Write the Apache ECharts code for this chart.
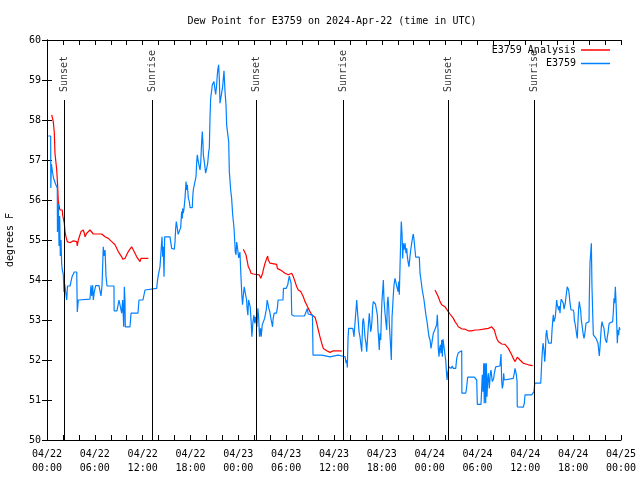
<!DOCTYPE html>
<html>
<head>
<meta charset="utf-8">
<script src="https://cdn.jsdelivr.net/npm/echarts@6/dist/echarts.min.js"></script>
<style>html,body{margin:0;padding:0;background:#fff}#c{width:640px;height:480px}</style>
</head>
<body>
<div id="c"></div>
<script>
// time in hours since 2024-04-22 00:00 UTC, dew point in degrees F
const xTickLabels = ['04/22\n00:00','04/22\n06:00','04/22\n12:00','04/22\n18:00','04/23\n00:00','04/23\n06:00','04/23\n12:00','04/23\n18:00','04/24\n00:00','04/24\n06:00','04/24\n12:00','04/24\n18:00','04/25\n00:00'];
const sunTimes = [2.17, 13.21, 26.25, 37.17, 50.34, 61.09];
const sunLabels = ['Sunset','Sunrise','Sunset','Sunrise','Sunset','Sunrise'];

const anaSeg1 = [[0.59,58.13],[0.72,58.15],[0.79,57.96],[0.92,57.67],[1.0,57.17],[1.13,57.13],[1.22,56.75],[1.34,56.33],[1.42,55.96],[1.54,55.83],[1.63,55.75],[1.92,55.75],[1.96,55.63],[2.04,55.63],[2.17,55.42],[2.26,55.21],[2.38,55.08],[2.55,54.96],[2.67,54.92],[2.89,54.93],[3.1,54.96],[3.30,54.98],[3.5,54.96],[3.73,54.96],[3.80,54.85],[3.93,55.0],[4.14,55.13],[4.26,55.21],[4.42,55.21],[4.55,55.25],[4.68,55.17],[4.77,55.08],[4.98,55.17],[5.18,55.21],[5.39,55.25],[5.61,55.25],[5.81,55.15],[6.86,55.15],[7.06,55.13],[7.28,55.08],[7.69,55.04],[7.90,55.0],[8.12,54.96],[8.32,54.92],[8.53,54.88],[8.74,54.83],[8.94,54.71],[9.16,54.67],[9.37,54.58],[9.50,54.52],[9.62,54.5],[9.78,54.54],[10.0,54.63],[10.2,54.71],[10.41,54.77],[10.62,54.83],[10.83,54.75],[11.04,54.67],[11.25,54.58],[11.45,54.54],[11.67,54.46],[11.79,54.54],[12.71,54.54]];
const anaSeg2 = [[24.62,54.77],[24.84,54.75],[24.96,54.63],[25.13,54.46],[25.25,54.33],[25.46,54.25],[25.59,54.17],[25.88,54.15],[26.09,54.13],[26.63,54.13],[26.81,54.04],[26.93,54.0],[27.05,54.17],[27.13,54.25],[27.35,54.42],[27.56,54.54],[27.68,54.6],[27.76,54.5],[27.97,54.42],[28.19,54.39],[28.81,54.39],[28.89,54.29],[29.14,54.25],[29.44,54.23],[29.85,54.17],[30.27,54.13],[30.48,54.08],[30.69,54.17],[30.9,54.08],[31.11,53.96],[31.32,53.83],[31.52,53.75],[31.82,53.71],[32.15,53.58],[32.36,53.46],[32.57,53.38],[32.78,53.29],[32.99,53.21],[33.2,53.13],[33.41,53.08],[33.62,53.07],[33.83,52.92],[34.03,52.75],[34.24,52.58],[34.46,52.42],[34.66,52.29],[35.09,52.23],[35.5,52.19],[35.91,52.23],[36.75,52.23],[36.97,52.22]];
const anaSeg3 = [[48.67,53.75],[48.92,53.73],[49.08,53.58],[49.3,53.46],[49.51,53.38],[49.71,53.35],[49.92,53.33],[50.14,53.29],[50.34,53.21],[50.55,53.15],[50.77,53.13],[50.97,53.04],[51.18,52.96],[51.39,52.9],[51.59,52.83],[51.72,52.79],[52.02,52.78],[52.43,52.77],[52.65,52.75],[52.85,52.73],[53.06,52.71],[53.27,52.73],[53.69,52.75],[54.1,52.75],[54.32,52.78],[54.94,52.78],[55.16,52.77],[55.36,52.79],[55.57,52.81],[55.78,52.83],[55.98,52.82],[56.11,52.75],[56.28,52.63],[56.41,52.54],[56.61,52.46],[56.82,52.42],[57.04,52.4],[57.45,52.39],[57.66,52.35],[57.87,52.29],[58.08,52.21],[58.29,52.13],[58.49,52.04],[58.71,51.96],[58.83,51.96],[58.99,52.07],[59.12,52.05],[59.33,52.0],[59.55,51.95],[59.75,51.92],[59.96,51.9],[60.37,51.88],[60.92,51.86]];

const obsData = [[0.16,57.6],[0.46,57.6],[0.48,56.3],[0.55,56.9],[0.69,56.7],[0.82,56.55],[1.07,56.4],[1.29,56.3],[1.31,55.2],[1.42,55.9],[1.51,54.85],[1.59,55.6],[1.67,54.6],[1.76,55.0],[1.84,54.4],[1.92,54.25],[2.04,54.15],[2.13,53.7],[2.22,53.9],[2.35,53.85],[2.47,53.5],[2.57,53.85],[2.89,53.85],[3.01,53.8],[3.14,54.08],[3.30,54.08],[3.42,54.2],[3.73,54.2],[3.80,53.2],[3.93,53.5],[4.14,53.52],[5.39,53.52],[5.52,53.87],[5.61,53.6],[5.73,53.87],[5.81,53.5],[5.93,53.7],[6.11,53.86],[6.52,53.86],[6.77,53.6],[6.90,53.86],[6.94,54.1],[7.06,54.83],[7.15,54.6],[7.28,54.75],[7.40,54.1],[7.53,53.85],[8.40,53.85],[8.42,53.23],[8.78,53.23],[9.03,53.5],[9.28,53.5],[9.37,53.17],[9.49,53.5],[9.62,52.83],[9.70,53.83],[9.78,53.5],[9.82,52.83],[10.41,52.83],[10.54,53.17],[11.41,53.17],[11.54,53.5],[12.04,53.5],[12.2,53.55],[12.29,53.75],[12.5,53.79],[13.76,53.79],[13.84,53.96],[13.97,54.13],[14.1,54.13],[14.17,54.33],[14.26,54.58],[14.34,54.83],[14.43,55.08],[14.51,54.58],[14.59,54.83],[14.68,54.08],[14.76,55.08],[15.43,55.08],[15.51,54.96],[15.64,54.79],[15.97,54.77],[16.06,54.96],[16.14,55.29],[16.22,55.46],[16.35,55.29],[16.45,55.14],[16.68,55.14],[16.77,55.31],[16.89,55.71],[16.97,55.54],[17.02,55.79],[17.10,55.67],[17.19,55.79],[17.31,56.04],[17.44,56.46],[17.52,56.25],[17.60,56.38],[17.73,56.04],[17.85,55.96],[17.95,55.81],[18.23,55.81],[18.27,56.04],[18.35,56.25],[18.56,56.46],[18.69,56.58],[18.77,56.92],[18.85,57.13],[18.98,56.96],[19.07,57.0],[19.19,56.75],[19.28,56.92],[19.40,57.46],[19.48,57.71],[19.57,57.38],[19.61,57.13],[19.73,56.96],[19.90,56.67],[20.03,56.79],[20.16,56.92],[20.28,57.21],[20.36,57.29],[20.45,58.08],[20.53,58.54],[20.66,58.75],[20.74,58.88],[20.86,58.83],[20.95,58.96],[21.07,58.75],[21.16,58.64],[21.28,58.88],[21.36,59.13],[21.45,59.29],[21.53,59.38],[21.62,59.0],[21.70,58.42],[21.95,58.42],[22.03,58.83],[22.12,59.04],[22.20,59.23],[22.33,58.71],[22.45,58.38],[22.54,57.86],[22.70,57.86],[22.79,57.46],[22.87,56.71],[23.04,56.25],[23.16,56.04],[23.29,55.63],[23.46,55.3],[23.58,55.25],[23.62,54.7],[23.71,54.63],[23.79,54.95],[23.87,54.85],[23.96,54.9],[24.05,54.55],[24.2,54.7],[24.33,54.08],[24.45,53.58],[24.53,53.38],[24.62,53.6],[24.74,53.83],[24.91,53.8],[25.03,53.5],[25.12,53.25],[25.20,53.12],[25.28,53.5],[25.41,53.54],[25.49,53.33],[25.62,52.92],[25.70,52.58],[25.83,52.95],[25.95,53.12],[26.04,52.92],[26.12,53.08],[26.33,52.83],[26.45,53.29],[26.54,53.08],[26.66,52.58],[26.79,52.79],[26.87,52.58],[27.0,52.88],[27.3,53.04],[27.42,53.17],[27.5,53.25],[27.62,53.5],[27.75,53.5],[27.83,53.29],[27.95,53.2],[28.08,53.04],[28.2,52.92],[28.29,52.83],[28.37,53.04],[28.5,53.17],[28.79,53.17],[28.91,53.33],[28.99,53.5],[29.6,53.5],[29.66,53.79],[30.0,53.79],[30.2,53.88],[30.29,54.0],[30.41,54.1],[30.5,54.0],[30.62,53.92],[30.7,53.13],[31.0,53.1],[32.3,53.1],[32.4,53.12],[32.66,53.29],[32.75,53.15],[32.83,53.12],[33.3,53.12],[33.33,53.08],[33.37,52.12],[33.6,52.1],[34.5,52.12],[35.5,52.08],[36.5,52.12],[37.0,52.1],[37.25,52.08],[37.4,52.08],[37.51,51.92],[37.6,52.0],[37.67,51.81],[37.76,52.54],[37.84,52.79],[38.35,52.79],[38.42,52.71],[38.51,52.58],[38.55,52.71],[38.63,52.67],[38.76,53.25],[38.85,53.5],[38.92,53.29],[39.05,53.33],[39.14,52.71],[39.26,52.58],[39.35,52.42],[39.48,52.21],[39.6,52.96],[39.68,53.04],[39.76,52.92],[39.85,52.67],[39.93,52.5],[40.01,52.42],[40.1,52.21],[40.18,52.46],[40.3,52.83],[40.43,53.17],[40.52,52.92],[40.6,52.71],[40.68,52.79],[40.77,53.0],[40.85,53.33],[40.93,53.46],[41.2,53.4],[41.36,53.4],[41.44,53.12],[41.52,52.75],[41.61,52.5],[41.68,52.25],[41.77,52.67],[41.86,52.5],[41.94,53.08],[42.02,53.5],[42.11,53.75],[42.19,54.0],[42.27,53.5],[42.4,53.17],[42.52,52.92],[42.61,52.75],[42.69,53.42],[42.77,53.58],[42.86,53.33],[42.94,52.92],[43.03,52.58],[43.11,52.33],[43.19,52.0],[43.28,53.08],[43.36,53.33],[43.44,53.63],[43.53,53.88],[43.65,54.04],[43.9,54.07],[44.03,53.71],[44.12,53.96],[44.19,53.63],[44.28,54.33],[44.37,55.0],[44.44,55.46],[44.53,55.17],[44.62,54.54],[44.69,54.92],[44.78,54.75],[44.91,54.92],[45.03,54.67],[45.12,54.79],[45.2,54.58],[45.32,54.42],[45.41,54.33],[45.53,54.58],[45.62,54.75],[45.75,54.92],[45.87,55.08],[45.95,55.15],[46.04,55.0],[46.16,54.75],[46.25,54.57],[46.7,54.57],[46.79,54.17],[46.91,54.0],[47.04,53.79],[47.13,53.75],[47.29,53.5],[47.42,53.29],[47.55,53.1],[47.67,52.96],[47.8,52.75],[47.92,52.58],[48.05,52.5],[48.17,52.29],[48.3,52.46],[48.46,52.67],[48.63,52.75],[48.76,52.79],[48.88,52.88],[48.96,53.13],[49.05,52.75],[49.08,52.29],[49.17,52.08],[49.25,52.29],[49.34,52.38],[49.42,52.17],[49.51,52.5],[49.59,52.08],[49.67,52.52],[49.92,52.52],[50.01,52.0],[50.09,51.75],[50.18,51.5],[50.26,51.67],[50.34,51.75],[50.42,51.83],[50.55,51.88],[50.68,51.79],[50.84,51.85],[50.97,51.79],[51.27,51.79],[51.39,52.04],[51.5,52.12],[51.59,52.18],[51.72,52.23],[52.02,52.23],[52.04,51.17],[52.52,51.17],[52.6,51.25],[52.77,51.57],[53.6,51.57],[53.7,51.52],[53.81,51.57],[53.9,51.5],[53.98,50.89],[54.44,50.89],[54.6,51.63],[54.69,51.21],[54.78,51.92],[54.85,50.92],[54.94,51.92],[55.03,50.92],[55.11,51.92],[55.19,51.08],[55.28,51.5],[55.36,51.67],[55.48,51.29],[55.61,51.67],[55.69,51.75],[55.78,51.79],[55.86,51.46],[55.94,51.42],[56.03,51.54],[56.11,51.67],[56.2,51.75],[56.28,51.83],[56.36,51.88],[56.82,51.85],[56.95,52.15],[57.03,51.5],[57.11,51.29],[57.2,51.38],[57.28,51.67],[57.36,51.5],[57.54,51.54],[58.49,51.54],[58.62,51.68],[58.71,51.79],[58.8,51.75],[58.88,51.63],[58.96,51.46],[58.99,50.83],[59.75,50.82],[59.88,50.93],[59.96,51.13],[60.8,51.13],[61.0,51.1],[61.09,51.21],[61.18,51.42],[61.93,51.42],[61.97,51.58],[62.05,51.92],[62.13,52.21],[62.22,52.42],[62.34,52.25],[62.43,51.96],[62.51,52.17],[62.59,52.63],[62.68,52.75],[62.76,52.58],[62.84,52.63],[62.93,52.42],[63.26,52.42],[63.35,52.75],[63.43,52.96],[63.51,53.13],[63.6,52.96],[63.68,52.92],[63.76,53.08],[63.85,53.29],[63.93,53.5],[64.01,53.38],[64.1,53.42],[64.18,53.25],[64.26,53.35],[64.35,53.17],[64.43,53.42],[64.51,53.52],[64.68,53.52],[64.76,53.42],[64.85,53.27],[64.93,53.29],[65.01,53.42],[65.1,53.58],[65.18,53.71],[65.26,53.83],[65.35,53.79],[65.43,53.75],[65.51,53.63],[65.6,53.42],[65.73,53.25],[66.02,53.25],[66.1,53.17],[66.14,53.0],[66.23,52.92],[66.36,52.75],[66.44,52.63],[66.52,52.54],[66.61,53.0],[66.69,53.29],[66.77,53.46],[66.86,53.33],[66.94,53.25],[67.02,53.0],[67.11,52.88],[67.19,52.75],[67.27,52.63],[67.36,52.54],[67.44,52.63],[67.52,52.75],[67.61,52.92],[67.99,52.96],[68.02,53.5],[68.11,54.42],[68.2,54.46],[68.28,54.92],[68.36,53.83],[68.45,53.17],[68.53,52.63],[68.7,52.58],[68.87,52.54],[69.03,52.5],[69.12,52.42],[69.2,52.25],[69.28,52.1],[69.37,52.33],[69.45,52.58],[69.53,52.83],[69.62,52.96],[69.7,52.88],[69.78,52.83],[69.87,52.79],[69.95,52.63],[70.03,52.52],[70.12,52.5],[70.2,52.43],[70.28,52.58],[70.37,52.67],[70.45,52.83],[70.53,52.92],[70.62,52.96],[70.95,52.96],[71.03,53.17],[71.12,53.54],[71.2,53.42],[71.29,53.83],[71.37,53.5],[71.45,53.0],[71.54,52.42],[71.62,52.75],[71.7,52.62],[71.79,52.82],[71.87,52.75]];

const FONT = 'DejaVu Sans Mono';
const RED = '#ff0000', BLUE = '#0080ff';
const chart = echarts.init(document.getElementById('c'), null, {renderer: 'canvas'});

function anaSeries(d) {
  return {name: 'E3759 Analysis', type: 'line', data: d, showSymbol: false, symbol: 'none',
    lineStyle: {color: RED, width: 1.2}, itemStyle: {color: RED}, animation: false, z: 3};
}
const tickAxisCommon = {
  axisLine: {show: true, lineStyle: {color: '#000', width: 1}},
  axisTick: {show: true, inside: true, length: 5, lineStyle: {color: '#000'}},
  splitLine: {show: false}
};

chart.setOption({
  backgroundColor: '#fff',
  animation: false,
  title: {text: 'Dew Point for E3759 on 2024-Apr-22 (time in UTC)', left: 332, top: 16, padding: 0,
    textAlign: 'center', textStyle: {fontFamily: FONT, fontSize: 10, fontWeight: 'normal', color: '#000'}},
  legend: [
    {data: ['E3759 Analysis'], right: 30, top: 45, padding: 0, align: 'right', icon: 'rect', itemWidth: 29, itemHeight: 1.5,
      textStyle: {fontFamily: FONT, fontSize: 10, color: '#000'}, selectedMode: false},
    {data: ['E3759'], right: 30, top: 58.5, padding: 0, align: 'right', icon: 'rect', itemWidth: 29, itemHeight: 1.5,
      textStyle: {fontFamily: FONT, fontSize: 10, color: '#000'}, selectedMode: false}
  ],
  grid: {left: 47, right: 19, top: 40, bottom: 40, outerBoundsMode: 'none', containLabel: false},
  xAxis: [
    Object.assign({type: 'value', min: 0, max: 72, interval: 2, position: 'bottom',
      axisLabel: {fontFamily: FONT, fontSize: 10, color: '#000', margin: 7, lineHeight: 14,
        formatter: v => (v % 6 === 0 ? xTickLabels[v / 6] : '')}}, tickAxisCommon),
    Object.assign({type: 'value', min: 0, max: 72, interval: 2, position: 'top', axisLabel: {show: false}}, tickAxisCommon)
  ],
  yAxis: [
    Object.assign({type: 'value', min: 50, max: 60, interval: 1, position: 'left',
      name: 'degrees F', nameLocation: 'middle', nameGap: 32, nameRotate: 90,
      nameTextStyle: {fontFamily: FONT, fontSize: 10, color: '#000'},
      axisLabel: {fontFamily: FONT, fontSize: 10, color: '#000', margin: 6}}, tickAxisCommon),
    Object.assign({type: 'value', min: 50, max: 60, interval: 1, position: 'right', axisLabel: {show: false}}, tickAxisCommon)
  ],
  series: [
    {type: 'scatter', data: sunTimes.map((t, i) => ({value: [t, 58.7], name: sunLabels[i]})),
      symbolSize: 0, silent: true, z: 2,
      label: {show: true, formatter: p => p.name, position: 'inside', rotate: 90, align: 'left', verticalAlign: 'middle',
        fontFamily: FONT, fontSize: 10, color: '#000'},
      markLine: {silent: true, symbol: ['none', 'none'], animation: false, label: {show: false},
        lineStyle: {color: '#000', width: 1, type: 'solid'},
        data: sunTimes.map(t => [{coord: [t, 50]}, {coord: [t, 58.5]}])}},
    anaSeries(anaSeg1), anaSeries(anaSeg2), anaSeries(anaSeg3),
    {name: 'E3759', type: 'line', data: obsData, showSymbol: false, symbol: 'none',
      lineStyle: {color: BLUE, width: 1.2}, itemStyle: {color: BLUE}, animation: false, z: 4}
  ]
});
</script>
</body>
</html>
